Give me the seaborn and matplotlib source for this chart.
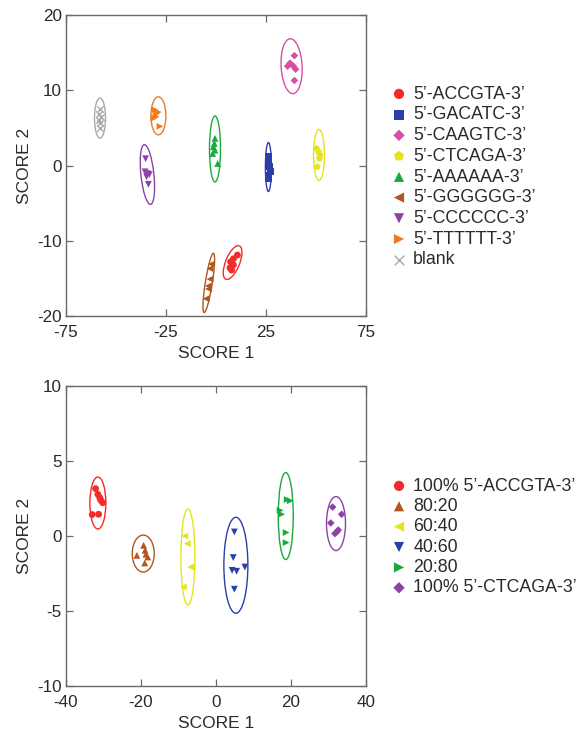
import numpy as np
import pandas as pd
import matplotlib
matplotlib.use("Agg")
import matplotlib.pyplot as plt
import seaborn as sns
from matplotlib.patches import Ellipse
from matplotlib.transforms import ScaledTranslation

# ---------------- data: top panel ----------------
top_labels = ["5\u2019-ACCGTA-3\u2019", "5\u2019-GACATC-3\u2019", "5\u2019-CAAGTC-3\u2019",
              "5\u2019-CTCAGA-3\u2019", "5\u2019-AAAAAA-3\u2019", "5\u2019-GGGGGG-3\u2019",
              "5\u2019-CCCCCC-3\u2019", "5\u2019-TTTTTT-3\u2019", "blank"]
top_colors = ["#f52a2a", "#2b3fa8", "#d64fa6", "#e4e41c", "#1aaa3c", "#b2561e",
              "#8c43a8", "#f07a22", "#aaaaaa"]
top_markers = ["o", "s", "D", "p", "^", "<", "v", ">", "x"]

top_x = [
    [10.7, 8.7, 7.3, 8.7, 7.0, 7.8],
    [26.2, 26.5, 26.7, 27.3, 26.2, 26.2],
    [39.2, 37.0, 35.8, 38.7, 39.8, 39.2],
    [50.3, 51.2, 52.0, 51.7, 50.7],
    [-0.5, -0.85, -1.35, -0.5, -1.65, 0.85],
    [-2.3, -3.0, -3.0, -3.8, -3.8, -5.0],
    [-35.2, -35.5, -34.3, -33.3, -34.7, -33.8],
    [-30.5, -29.7, -28.9, -30.0, -30.9, -28.0],
    [-58.0, -58.5, -57.5, -58.3, -57.8, -58.2],
]
top_y = [
    [-11.9, -12.4, -12.8, -13.2, -13.6, -13.9],
    [1.16, 0.49, -0.17, -0.84, -1.3, -1.73],
    [14.6, 13.6, 13.2, 13.2, 12.8, 11.3],
    [2.27, 1.82, 1.37, 0.93, -0.17],
    [3.6, 2.93, 2.49, 2.04, 1.6, 0.27],
    [-13.1, -13.7, -15.1, -16.0, -16.4, -17.7],
    [0.9, -0.84, -1.07, -1.2, -1.5, -2.5],
    [7.4, 6.9, 7.1, 6.5, 6.3, 5.2],
    [7.5, 6.9, 6.4, 6.0, 5.6, 5.0],
]
# confidence ellipses: centre (data), width / height (pixels), angle (deg)
top_ell_cx = [8.3, 26.2, 37.8, 51.5, -0.5, -3.6, -34.3, -28.8, -58.0]
top_ell_cy = [-12.9, -0.2, 13.2, 1.4, 2.2, -15.6, -1.2, 6.6, 6.3]
top_ell_w = [36, 6, 21, 11, 11, 60, 13, 15, 11]
top_ell_h = [14, 49, 55, 51, 66, 7, 60, 38, 40]
top_ell_ang = [68, 0, 3, 0, 0, 81, 6, 0, 0]

# ---------------- data: bottom panel ----------------
bot_labels = ["100% 5\u2019-ACCGTA-3\u2019", "80:20", "60:40", "40:60", "20:80",
              "100% 5\u2019-CTCAGA-3\u2019"]
bot_colors = ["#f52a2a", "#b2561e", "#e4e41c", "#2b3fa8", "#1aaa3c", "#8c43a8"]
bot_markers = ["o", "^", "<", "v", ">", "D"]
bot_x = [
    [-32.1, -31.5, -31.0, -30.7, -30.2, -33.0, -31.3],
    [-19.3, -18.9, -18.7, -21.1, -18.2, -19.0],
    [-8.3, -7.65, -6.75, -8.7],
    [4.9, 4.6, 4.3, 5.5, 7.7, 4.9],
    [19.0, 19.8, 17.1, 17.5, 18.7, 18.7],
    [31.1, 33.5, 30.6, 32.2, 31.7, 32.6],
]
bot_y = [
    [3.16, 2.78, 2.56, 2.38, 2.22, 1.43, 1.45],
    [-0.62, -0.95, -1.22, -1.29, -1.4, -1.8],
    [0.0, -0.51, -2.07, -3.4],
    [0.27, -1.44, -2.29, -2.35, -2.07, -3.55],
    [2.43, 2.35, 1.71, 1.45, 0.23, -0.44],
    [1.93, 1.45, 0.87, 0.27, 0.16, 0.4],
]
bot_ell_cx = [-31.5, -19.4, -7.5, 5.3, 18.6, 32.0]
bot_ell_cy = [2.2, -1.17, -1.4, -1.95, 1.33, 0.83]
bot_ell_w = [16, 22, 14, 24, 15, 19]
bot_ell_h = [52, 37, 96, 96, 87, 54]
bot_ell_ang = [0, 0, 0, 0, 0, 0]

# ---------------- plotting ----------------
sns.set_theme(style="ticks")
plt.rcParams["font.family"] = ["Liberation Sans", "DejaVu Sans"]
plt.rcParams["axes.unicode_minus"] = False
TEXT = "#2a2a2a"
SPINE = "#6a6a6a"

DPI = 100
fig = plt.figure(figsize=(5.79, 7.31), dpi=DPI)
ax1 = fig.add_axes([66 / 579, 1 - 316 / 731, 300 / 579, 301 / 731])
ax2 = fig.add_axes([66 / 579, 1 - 686 / 731, 300 / 579, 300 / 731])

MSIZE = {"D": 15, "p": 26, "x": 22}


def draw_panel(ax, labels, colors, markers, xs, ys, cx, cy, w, h, ang,
               xlim, ylim, xticks, yticks, legend_y, spacing):
    for lab, c, x0, y0, ww, hh, aa in zip(labels, colors, cx, cy, w, h, ang):
        tr = fig.dpi_scale_trans + ScaledTranslation(x0, y0, ax.transData)
        e = Ellipse((0, 0), ww / DPI, hh / DPI, angle=aa, transform=tr,
                    fill=False, edgecolor=c, lw=1.0, zorder=1)
        ax.add_patch(e)
    for lab, c, m, xx, yy in zip(labels, colors, markers, xs, ys):
        df = pd.DataFrame({"x": xx, "y": yy})
        s = MSIZE.get(m, 24)
        if m == "x":
            sns.scatterplot(data=df, x="x", y="y", color=c, marker=m, s=s,
                            linewidth=1.0, ax=ax, zorder=3, label=lab)
        else:
            sns.scatterplot(data=df, x="x", y="y", color=c, marker=m, s=s,
                            linewidth=0, edgecolor="none", ax=ax, zorder=3,
                            label=lab)
    ax.set_xlim(*xlim)
    ax.set_ylim(*ylim)
    ax.set_xticks(xticks)
    ax.set_yticks(yticks)
    ax.set_xlabel("SCORE 1", fontsize=12.5, color=TEXT, labelpad=4)
    ax.set_ylabel("SCORE 2", fontsize=12.5, color=TEXT, labelpad=4)
    ax.tick_params(direction="in", top=True, right=True, length=5,
                   width=0.9, color=SPINE, labelsize=12.3, labelcolor=TEXT)
    ax.tick_params(axis="x", pad=6.5)
    ax.tick_params(axis="y", pad=3)
    for sp in ax.spines.values():
        sp.set_visible(True)
        sp.set_color(SPINE)
        sp.set_linewidth(1.0)
    leg = ax.legend(loc="center left", bbox_to_anchor=(383 / 579, legend_y),
                    bbox_transform=fig.transFigure, frameon=False,
                    fontsize=12.8, handletextpad=0.3, labelspacing=spacing,
                    markerscale=1.5, borderaxespad=0, handlelength=1.0)
    for t in leg.get_texts():
        t.set_color(TEXT)


draw_panel(ax1, top_labels, top_colors, top_markers, top_x, top_y,
           top_ell_cx, top_ell_cy, top_ell_w, top_ell_h, top_ell_ang,
           (-75, 75), (-20, 20), [-75, -25, 25, 75], [-20, -10, 0, 10, 20],
           1 - 177 / 731, 0.21)

draw_panel(ax2, bot_labels, bot_colors, bot_markers, bot_x, bot_y,
           bot_ell_cx, bot_ell_cy, bot_ell_w, bot_ell_h, bot_ell_ang,
           (-40, 40), (-10, 10), [-40, -20, 0, 20, 40], [-10, -5, 0, 5, 10],
           1 - 537 / 731, 0.19)

fig.savefig("out.png", dpi=DPI)
